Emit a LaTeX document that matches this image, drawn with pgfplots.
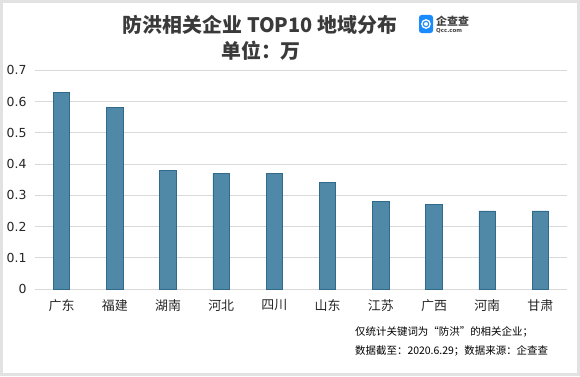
\documentclass[border=0pt]{standalone}
\usepackage{fontspec}
\setmainfont{Noto Sans CJK SC}
\newfontfamily\dejavu{DejaVu Sans}
\usepackage{pgfplots}
\pgfplotsset{compat=1.18}
\definecolor{barfill}{HTML}{5088A7}
\definecolor{baredge}{HTML}{2F6A8A}
\definecolor{gridc}{HTML}{D9D9D9}
\definecolor{titlec}{HTML}{3A3A3A}
\definecolor{logoblue}{HTML}{1A8CFF}
\definecolor{framec}{HTML}{E2E2E2}
\pgfplotstableread{
x val
0 0.63
1 0.58
2 0.38
3 0.37
4 0.37
5 0.34
6 0.28
7 0.27
8 0.25
9 0.25
}\datatable
\begin{document}
\begin{tikzpicture}[x=1bp,y=1bp]
\fill[white] (0,0) rectangle (580,376);
\draw[framec, line width=3bp] (1.5,1.5) rectangle (578.5,374.5);
\begin{axis}[
  at={(35bp,87bp)}, anchor=south west,
  scale only axis, width=532bp, height=218.6bp,
  xmin=-0.5, xmax=9.5, ymin=0, ymax=0.7,
  ytick={0,0.1,0.2,0.3,0.4,0.5,0.6,0.7},
  xtick={0,...,9},
  xticklabels={广东,福建,湖南,河北,四川,山东,江苏,广西,河南,甘肃},
  axis line style={draw=none},
  major tick length=0pt,
  ymajorgrids,
  grid style={gridc, line width=1bp},
  /pgf/number format/assume math mode=true,
  /pgf/number format/fixed,
  yticklabel style={font=\dejavu\fontsize{12.5}{13}\selectfont, text=black!85, anchor=east, xshift=-5bp},
  xticklabel style={font=\fontsize{13}{14}\selectfont, text=black!85, anchor=north, yshift=-7bp},
  ybar, bar width=16.5bp,
  clip=false,
]
\addplot[fill=barfill, draw=baredge, line width=0.8bp] table[x=x, y=val] {\datatable};
\end{axis}
\node[font=\bfseries\fontsize{20}{22}\selectfont, text=titlec] at (260,351) {防洪相关企业 TOP10 地域分布};
\node[font=\bfseries\fontsize{20}{22}\selectfont, text=titlec] at (261,325) {单位：万};
% logo
\fill[logoblue, rounded corners=2.5bp] (419,343) rectangle (433,361);
\draw[white, line width=1.3bp] (426,352) circle (4.2);
\fill[white] (426,352) circle (2);
\node[font=\bfseries\fontsize{11}{12}\selectfont, text=black!75, anchor=west, inner sep=0] at (436,355) {企查查};
\node[font=\dejavu\bfseries\fontsize{5.5}{6}\selectfont, text=black!75, anchor=west, inner sep=0] at (436,345.5) {Qcc.com};
% footer
\node[font=\fontsize{10.5}{12}\selectfont, text=black, anchor=west, inner sep=0] at (355,44) {仅统计关键词为“防洪”的相关企业；};
\node[font=\fontsize{10.5}{12}\selectfont, text=black, anchor=west, inner sep=0] at (355,25) {数据截至：2020.6.29；数据来源：企查查};
\end{tikzpicture}
\end{document}
